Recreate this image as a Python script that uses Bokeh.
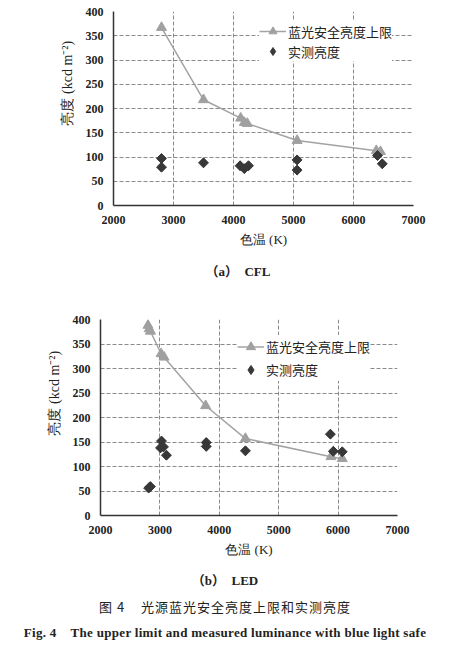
import numpy as np
from bokeh.plotting import figure
from bokeh.models import Range1d, Title, Div
from bokeh.embed import file_html
from bokeh.resources import INLINE

# ---------------- data ----------------
x_ticks = [2000, 3000, 4000, 5000, 6000, 7000]
y_ticks = [0, 50, 100, 150, 200, 250, 300, 350, 400]

cfl_limit_cct = [2800, 3500, 4120, 4180, 4230, 5060, 6380, 6450]
cfl_limit_lum = [367, 218, 180, 171, 169, 134, 113, 111]
cfl_meas_cct = [2800, 2800, 3500, 4110, 4180, 4250, 5060, 5060, 6400, 6480]
cfl_meas_lum = [97, 79, 88, 82, 76, 82, 94, 73, 103, 86]

led_limit_cct = [2800, 2820, 2840, 3020, 3070, 3770, 4440, 5880, 6070]
led_limit_lum = [388, 381, 376, 330, 323, 224, 157, 120, 116]
led_meas_cct = [2810, 2840, 3010, 3027, 3060, 3110, 3780, 3780, 4440, 5870, 5920, 6070]
led_meas_lum = [56, 59, 138, 152, 140, 123, 149, 141, 132, 166, 131, 130]

legend_limit = "蓝光安全亮度上限"
legend_meas = "实测亮度"
x_title = "色温 (K)"
y_title = "亮度 (kcd m⁻²)"
caption_a = "（a）&nbsp; CFL"
caption_b = "（b）&nbsp; LED"
fig_cn = "图 4&nbsp;&nbsp;&nbsp; 光源蓝光安全亮度上限和实测亮度"
fig_en = "Fig. 4&nbsp;&nbsp;&nbsp; The upper limit and measured luminance with blue light safe"

SERIF = "Liberation Serif"
CJK = "Noto Sans CJK SC"


def make_panel(lx, ly, mx, my, height, bl, br, bt, bb, leg_xy, leg_h, margin):
    p = figure(width=448, height=height, title=None,
               x_range=Range1d(2000, 7000), y_range=Range1d(0, 400),
               output_backend="svg", toolbar_location=None,
               min_border_left=bl, min_border_right=br,
               min_border_top=bt, min_border_bottom=bb, margin=margin)
    p.background_fill_color = "white"
    p.border_fill_color = "white"
    p.outline_line_color = None

    p.xaxis.ticker = x_ticks
    p.yaxis.ticker = y_ticks
    p.xgrid.ticker = x_ticks
    p.ygrid.ticker = y_ticks
    for g in (p.xgrid, p.ygrid):
        g.grid_line_color = "#8a8a8a"
        g.grid_line_dash = "4 2"
        g.grid_line_width = 1

    for ax in (p.xaxis, p.yaxis):
        ax.axis_line_color = "#333333"
        ax.axis_line_width = 1.5
        ax.major_tick_out = 0
        ax.major_tick_in = 0
        ax.minor_tick_out = 0
        ax.minor_tick_in = 0
        ax.major_label_text_font = SERIF
        ax.major_label_text_font_style = "bold"
        ax.major_label_text_font_size = "12px"
        ax.major_label_text_color = "#222222"
        ax.major_label_standoff = 10

    p.xaxis.axis_label = x_title
    p.xaxis.axis_label_text_font = SERIF
    p.xaxis.axis_label_text_font_style = "normal"
    p.xaxis.axis_label_text_font_size = "13px"
    p.xaxis.axis_label_text_color = "#222222"
    p.xaxis.axis_label_standoff = 5

    yt = Title(text=y_title, align="left", offset=80, standoff=15,
               text_font=SERIF, text_font_style="normal",
               text_font_size="14px", text_color="#222222")
    p.add_layout(yt, "left")

    p.line(lx, ly, line_color="#a3a3a3", line_width=1.5, legend_label=legend_limit)
    p.scatter(lx, ly, marker="triangle", size=10, fill_color="#a0a0a0",
              line_color="#a0a0a0", legend_label=legend_limit)
    # diamond marker (shown in legend), covered by rotated squares at the data points
    p.scatter(mx, my, marker="diamond", size=9,
              fill_color="#383838", line_color="#383838", legend_label=legend_meas)
    p.scatter(mx, my, marker="square", angle=np.pi / 4, size=7,
              fill_color="#383838", line_color="#383838")

    lg = p.legend[0]
    lg.location = leg_xy
    lg.padding = 3
    lg.margin = 0
    lg.spacing = 0
    lg.glyph_width = 27
    lg.glyph_height = leg_h
    lg.label_height = leg_h
    lg.label_standoff = 2
    lg.label_text_font = CJK
    lg.label_text_font_size = "13px"
    lg.label_text_color = "#222222"
    lg.border_line_color = None
    lg.background_fill_color = "white"
    lg.background_fill_alpha = 1.0
    return p


pa = make_panel(cfl_limit_cct, cfl_limit_lum, cfl_meas_cct, cfl_meas_lum,
                251, 105, 43, 8, 49, (146, 144), 20, (3, 0, 0, 8))
pb = make_panel(led_limit_cct, led_limit_lum, led_meas_cct, led_meas_lum,
                272, 92, 59, 29, 47, (137, 134), 23, (0, 0, 0, 8))

font_css = "font-family:'Liberation Serif','Noto Sans CJK SC',serif;color:#222;"
div_a = Div(text=f'<div style="{font_css}width:448px;height:36px;line-height:36px;'
                 f'text-align:center;font-size:13px;font-weight:bold;padding-left:12px;box-sizing:border-box;">{caption_a}</div>',
            width=448, height=36, margin=(0, 0, 0, 8))
div_b = Div(text=(f'<div style="{font_css}width:448px;padding-top:6px;text-align:center;padding-right:14px;box-sizing:border-box;">'
                  f'<div style="height:26px;line-height:26px;font-size:13px;font-weight:bold;">{caption_b}</div>'
                  f'<div style="height:26px;line-height:26px;font-size:13px;letter-spacing:1px;font-family:\'Noto Sans CJK SC\';">{fig_cn}</div>'
                  f'<div style="height:26px;line-height:26px;font-size:13px;font-weight:bold;letter-spacing:0.3px;">{fig_en}</div>'
                  '</div>'),
            width=448, height=84, margin=(0, 0, 0, 8))

open("out.html", "w").write(file_html([pa, div_a, pb, div_b], INLINE))
